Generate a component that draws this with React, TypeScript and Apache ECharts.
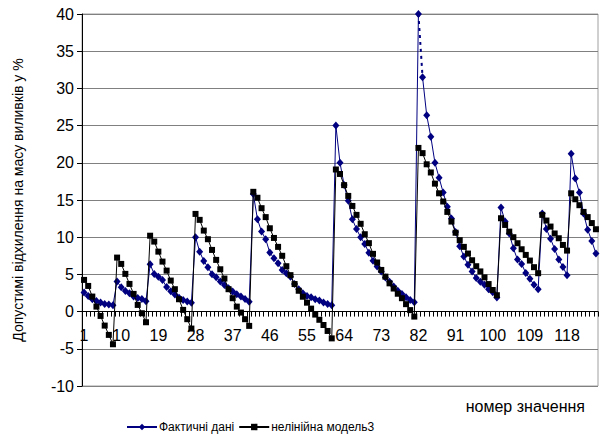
import React, { useEffect, useRef } from "react";
import * as echarts from "echarts";

const FONT = "'Liberation Sans', Arial, sans-serif";

const categories: string[] = Array.from({ length: 125 }, (_, i) => String(i + 1));

// Фактичні дані, by segment
const actual1 = [2.56, 2.11, 1.66, 1.44, 1.21, 1.03, 0.94, 0.86];
const actual2 = [4.03, 3.27, 2.78, 2.47, 2.02, 1.84, 1.7, 1.39];
const actual3 = [6.35, 5.05, 4.7, 4.25, 3.3, 2.75, 2.3, 1.85, 1.55, 1.35, 1.2];
const actual4 = [10.0, 8.06, 6.81, 5.97, 5.02, 4.62, 4.03, 3.59, 3.14, 2.69, 2.34, 2.02, 1.7, 1.34];
const actual5 = [15.8, 12.42, 10.75, 9.73, 7.93, 7.18, 6.5, 5.6, 5.16, 4.7, 3.72, 3.0, 2.47, 2.11, 1.93, 1.66, 1.48, 1.21, 1.03, 0.86];
const actual6 = [25.0, 20.0, 17.0, 14.9, 12.4, 11.1, 10.0, 9.1, 7.9, 6.85, 6.05, 5.4, 4.6, 4.0, 3.36, 2.8, 2.38, 1.93, 1.57, 1.25];
const actual7 = [40.0, 31.5, 26.4, 23.5, 20.0, 18.0, 16.0, 14.1, 12.5, 10.7, 8.8, 7.4, 6.3, 5.4, 4.5, 4.0, 3.6, 3.0, 2.6, 1.9];
const actual8 = [14.0, 12.1, 10.5, 8.5, 7.0, 6.4, 5.2, 4.4, 3.6, 3.0];
const actual9 = [13.2, 11.1, 9.8, 8.4, 7.0, 6.0, 4.9];
const actual10 = [21.2, 17.9, 16.0, 13.2, 11.0, 9.5, 7.8];

// нелінійна модель3, by segment
const model1 = [4.26, 3.45, 2.02, 0.67, -0.58, -1.88, -3.13, -4.39];
const model2 = [7.26, 6.41, 5.07, 3.72, 2.38, 0.9, -0.22, -1.43];
const model3 = [10.2, 9.41, 8.06, 6.72, 5.51, 4.17, 3.01, 1.66, 0.23, -1.02, -2.28];
const model4 = [13.13, 12.33, 10.89, 9.73, 8.29, 6.95, 5.69, 4.44, 3.01, 1.8, 0.67, -0.13, -1.02, -1.92];
const model5 = [16.1, 15.3, 13.9, 12.7, 11.2, 9.9, 8.7, 7.5, 6.1, 4.9, 3.7, 2.8, 2.0, 1.2, 0.4, -0.4, -1.1, -1.8, -2.6, -3.6];
const model6 = [19.1, 18.5, 17.0, 15.55, 14.2, 13.0, 11.8, 10.4, 9.2, 7.76, 6.6, 5.6, 4.7, 3.8, 3.1, 2.4, 1.8, 1.0, 0.2, -0.67];
const model7 = [22.0, 21.3, 19.8, 18.7, 17.2, 15.9, 14.8, 13.4, 12.1, 10.6, 9.6, 8.7, 7.8, 6.9, 6.1, 5.4, 4.6, 3.7, 2.9, 2.2];
const model8 = [12.55, 11.65, 10.75, 10.0, 9.19, 8.38, 7.62, 6.86, 5.97, 5.16];
const model9 = [13.0, 12.24, 11.43, 10.5, 9.86, 8.96, 8.2];
const model10 = [15.9, 15.1, 14.3, 13.4, 12.7, 11.9, 11.07];

const actual = [
  ...actual1, ...actual2, ...actual3, ...actual4, ...actual5,
  ...actual6, ...actual7, ...actual8, ...actual9, ...actual10,
];
const model = [
  ...model1, ...model2, ...model3, ...model4, ...model5,
  ...model6, ...model7, ...model8, ...model9, ...model10,
];

const yTitle = "Допустимі відхилення на масу виливків у %";
const xTitle = "номер значення";
const nameActual = "Фактичні дані";
const nameModel = "нелінійна модель3";
const dashFrom = 81; // index of category 82 (peak), dashed segment to the next point

const Y_MIN = -10;
const Y_MAX = 40;

export default function App() {
  const ref = useRef<HTMLDivElement>(null);
  useEffect(() => {
    if (!ref.current) return;
    const chart = echarts.init(ref.current, undefined, { renderer: "svg" });
    const partA = actual.map((v, i) => (i <= dashFrom ? v : null));
    const partB = actual.map((v, i) => (i >= dashFrom + 1 ? v : null));
    const dash = actual.map((v, i) => (i === dashFrom || i === dashFrom + 1 ? v : null));
    const blue = "#000080";
    const gridTop = 14;
    const gridBottom = 48;
    const plotH = 434 - gridTop - gridBottom;
    // place the category axis on the value 0 line
    const zeroOffset = -(plotH * (0 - Y_MIN)) / (Y_MAX - Y_MIN);
    const option: any = {
      animation: false,
      textStyle: { fontFamily: FONT },
      grid: {
        left: 82, right: 2, top: gridTop, bottom: gridBottom,
        show: true, borderColor: "#a0a0a0", borderWidth: 1,
      },
      legend: {
        data: [nameActual, nameModel],
        left: 121, top: 416,
        itemWidth: 30, itemHeight: 8, itemGap: 4,
        textStyle: { fontSize: 12, color: "#000", fontFamily: FONT, padding: [0, 0, 0, -3] },
      },
      xAxis: {
        type: "category",
        data: categories,
        boundaryGap: true,
        offset: zeroOffset,
        axisLine: { onZero: false, lineStyle: { color: "#000", width: 1 } },
        axisTick: { show: true, interval: 0, length: 5, lineStyle: { color: "#000" } },
        axisLabel: { interval: 8, fontSize: 16, color: "#000", margin: 16, fontFamily: FONT },
        splitLine: { show: false },
      },
      yAxis: {
        type: "value",
        min: Y_MIN, max: Y_MAX, interval: 5,
        axisLine: { show: true, lineStyle: { color: "#000", width: 1 } },
        axisTick: { show: true, length: 5, lineStyle: { color: "#000" } },
        axisLabel: { fontSize: 16, color: "#000", margin: 8, fontFamily: FONT },
        splitLine: { show: true, lineStyle: { color: "#808080", width: 1 } },
      },
      graphic: [
        {
          type: "text", x: 18, y: 200, rotation: Math.PI / 2,
          style: { text: yTitle, fontSize: 14, fontFamily: FONT, fill: "#000", align: "center", verticalAlign: "middle" },
        },
        {
          type: "text", x: 585, y: 406,
          style: { text: xTitle, fontSize: 16, fontFamily: FONT, fill: "#000", align: "right", verticalAlign: "middle" },
        },
      ],
      series: [
        {
          name: nameActual, type: "line", data: partA,
          symbol: "diamond", symbolSize: [7, 8], showAllSymbol: true,
          itemStyle: { color: blue }, lineStyle: { color: blue, width: 1 },
          connectNulls: false, z: 2,
        },
        {
          name: nameActual, type: "line", data: partB,
          symbol: "diamond", symbolSize: [7, 8], showAllSymbol: true,
          itemStyle: { color: blue }, lineStyle: { color: blue, width: 1 },
          connectNulls: false, z: 2,
        },
        {
          name: "dash", type: "line", data: dash,
          symbol: "none",
          lineStyle: { color: blue, width: 2, type: [3, 4] },
          connectNulls: false, z: 2,
        },
        {
          name: nameModel, type: "line", data: model,
          symbol: "rect", symbolSize: 6, showAllSymbol: true,
          itemStyle: { color: "#000" }, lineStyle: { color: "#000", width: 1 },
          z: 3,
        },
      ],
    };
    chart.setOption(option);
    return () => chart.dispose();
  }, []);
  return (
    <div
      ref={ref}
      style={{ position: "absolute", left: 0, top: 0, width: 600, height: 434, background: "#fff" }}
    />
  );
}
